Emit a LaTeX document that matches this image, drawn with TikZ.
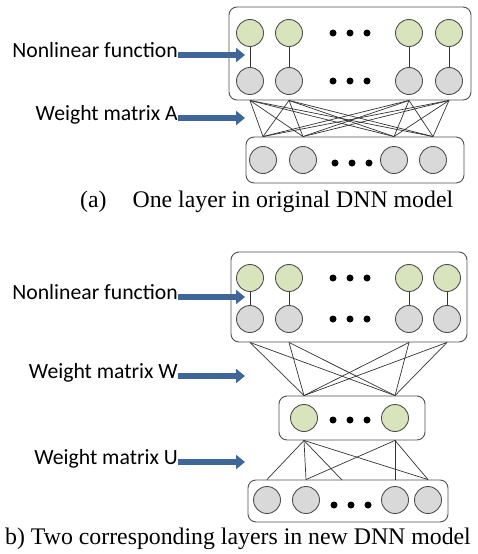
\documentclass[tikz,border=0pt]{standalone}
\usepackage{fontspec}
\setmainfont{Liberation Serif}
\newfontfamily\labelfont{Carlito}
\usetikzlibrary{arrows.meta}
\definecolor{cellgreen}{RGB}{216,228,188}
\definecolor{cellgray}{RGB}{217,217,217}
\definecolor{cellline}{RGB}{80,80,80}
\definecolor{arrowblue}{RGB}{62,102,152}

\begin{document}
\begin{tikzpicture}[x=1pt,y=-1pt,
  layer/.style={draw=cellline,line width=0.9pt,rounded corners=8pt,inner sep=0pt},
  unitg/.style={circle,draw=cellline,line width=0.9pt,fill=cellgreen,minimum size=27pt,inner sep=0pt},
  unitc/.style={circle,draw=cellline,line width=0.9pt,fill=cellgray,minimum size=27pt,inner sep=0pt},
  blob/.style={circle,fill=black,minimum size=7pt,inner sep=0pt},
  wire/.style={draw=black!80,line width=0.7pt},
  tag/.style={font=\labelfont\fontsize{21.7}{24}\selectfont,inner sep=0pt,anchor=mid east},
  pointer/.style={draw=arrowblue,line width=5.5pt,-{Triangle[length=9pt,width=14pt]}},
  caption/.style={font=\fontsize{23.8}{26}\selectfont,inner sep=0pt,anchor=base west}]
\useasboundingbox (0,0) rectangle (478,554);

\node[layer,minimum width=242pt,minimum height=93pt] (boxA) at (350,53.5) {};
\node[layer,minimum width=218pt,minimum height=46pt] (boxI) at (355,160) {};

\node[unitg] (ag1) at (250,33) {};
\node[unitg] (ag2) at (289,33) {};
\node[unitg] (ag3) at (409,33) {};
\node[unitg] (ag4) at (449,33) {};
\node[unitc] (ac1) at (250,81) {};
\node[unitc] (ac2) at (289,81) {};
\node[unitc] (ac3) at (409,81) {};
\node[unitc] (ac4) at (449,81) {};
\node[blob] at (333,33) {};
\node[blob] at (350,33) {};
\node[blob] at (367,33) {};
\node[blob] at (333,81) {};
\node[blob] at (350,81) {};
\node[blob] at (367,81) {};
\draw[wire] (ag1) -- (ac1);
\draw[wire] (ag2) -- (ac2);
\draw[wire] (ag3) -- (ac3);
\draw[wire] (ag4) -- (ac4);

\node[unitc] (ai1) at (263,160) {};
\node[unitc] (ai2) at (303,160) {};
\node[unitc] (ai3) at (394,160) {};
\node[unitc] (ai4) at (433,160) {};
\node[blob] at (335,163) {};
\node[blob] at (352,163) {};
\node[blob] at (369,163) {};

\draw[wire] (ac1 |- boxA.south) -- (ai1 |- boxI.north);
\draw[wire] (ac1 |- boxA.south) -- (ai2 |- boxI.north);
\draw[wire] (ac1 |- boxA.south) -- (ai3 |- boxI.north);
\draw[wire] (ac1 |- boxA.south) -- (ai4 |- boxI.north);
\draw[wire] (ac2 |- boxA.south) -- (ai1 |- boxI.north);
\draw[wire] (ac2 |- boxA.south) -- (ai2 |- boxI.north);
\draw[wire] (ac2 |- boxA.south) -- (ai3 |- boxI.north);
\draw[wire] (ac2 |- boxA.south) -- (ai4 |- boxI.north);
\draw[wire] (ac3 |- boxA.south) -- (ai1 |- boxI.north);
\draw[wire] (ac3 |- boxA.south) -- (ai2 |- boxI.north);
\draw[wire] (ac3 |- boxA.south) -- (ai3 |- boxI.north);
\draw[wire] (ac3 |- boxA.south) -- (ai4 |- boxI.north);
\draw[wire] (ac4 |- boxA.south) -- (ai1 |- boxI.north);
\draw[wire] (ac4 |- boxA.south) -- (ai2 |- boxI.north);
\draw[wire] (ac4 |- boxA.south) -- (ai3 |- boxI.north);
\draw[wire] (ac4 |- boxA.south) -- (ai4 |- boxI.north);

\node[tag] (nlA) at (178,55) {Nonlinear function};
\coordinate (nlAtip) at (245,55);
\draw[pointer] (nlA.mid east) -- (nlAtip);
\node[tag] (wA) at (178,118) {Weight matrix A};
\coordinate (wAtip) at (245,118);
\draw[pointer] (wA.mid east) -- (wAtip);

\node[caption] (capA) at (80,207) {(a)\hspace*{26pt}One layer in original DNN model};

\node[layer,minimum width=236pt,minimum height=90pt] (boxB) at (349,297) {};
\node[layer,minimum width=146pt,minimum height=44pt] (boxM) at (352,418) {};
\node[layer,minimum width=200pt,minimum height=42pt] (boxJ) at (348,501) {};

\node[unitg] (bg1) at (250,278) {};
\node[unitg] (bg2) at (289,278) {};
\node[unitg] (bg3) at (409,278) {};
\node[unitg] (bg4) at (447,278) {};
\node[unitc] (bc1) at (250,319) {};
\node[unitc] (bc2) at (289,319) {};
\node[unitc] (bc3) at (409,319) {};
\node[unitc] (bc4) at (447,319) {};
\node[blob] at (333,278) {};
\node[blob] at (350,278) {};
\node[blob] at (367,278) {};
\node[blob] at (333,319) {};
\node[blob] at (350,319) {};
\node[blob] at (367,319) {};
\draw[wire] (bg1) -- (bc1);
\draw[wire] (bg2) -- (bc2);
\draw[wire] (bg3) -- (bc3);
\draw[wire] (bg4) -- (bc4);

\node[unitg] (bm1) at (304,418) {};
\node[unitg] (bm2) at (395,418) {};
\node[blob] at (333,420) {};
\node[blob] at (350,420) {};
\node[blob] at (367,420) {};

\node[unitc] (bi1) at (267,500) {};
\node[unitc] (bi2) at (306,500) {};
\node[unitc] (bi3) at (395,500) {};
\node[unitc] (bi4) at (428,500) {};
\node[blob] at (334,505) {};
\node[blob] at (351,505) {};
\node[blob] at (368,505) {};
\coordinate (uMid) at (342,480);

\draw[wire] (bc1 |- boxB.south) -- (bm1 |- boxM.north);
\draw[wire] (bc1 |- boxB.south) -- (bm2 |- boxM.north);
\draw[wire] (bc2 |- boxB.south) -- (bm1 |- boxM.north);
\draw[wire] (bc2 |- boxB.south) -- (bm2 |- boxM.north);
\draw[wire] (bc3 |- boxB.south) -- (bm1 |- boxM.north);
\draw[wire] (bc3 |- boxB.south) -- (bm2 |- boxM.north);
\draw[wire] (bc4 |- boxB.south) -- (bm1 |- boxM.north);
\draw[wire] (bc4 |- boxB.south) -- (bm2 |- boxM.north);

\draw[wire] (bm1 |- boxM.south) -- (bi1 |- boxJ.north);
\draw[wire] (bm1 |- boxM.south) -- (bi2 |- boxJ.north);
\draw[wire] (bm1 |- boxM.south) -- (uMid);
\draw[wire] (bm1 |- boxM.south) -- (bi4 |- boxJ.north);
\draw[wire] (bm2 |- boxM.south) -- (bi2 |- boxJ.north);
\draw[wire] (bm2 |- boxM.south) -- (bi3 |- boxJ.north);
\draw[wire] (bm2 |- boxM.south) -- (bi4 |- boxJ.north);

\node[tag] (nlB) at (178,297) {Nonlinear function};
\coordinate (nlBtip) at (245,297);
\draw[pointer] (nlB.mid east) -- (nlBtip);
\node[tag] (wB) at (178,376) {Weight matrix W};
\coordinate (wBtip) at (245,376);
\draw[pointer] (wB.mid east) -- (wBtip);
\node[tag] (uB) at (178,462) {Weight matrix U};
\coordinate (uBtip) at (245,462);
\draw[pointer] (uB.mid east) -- (uBtip);

\node[caption] (capB) at (5,544) {b) Two corresponding layers in new DNN model};
\end{tikzpicture}
\end{document}
